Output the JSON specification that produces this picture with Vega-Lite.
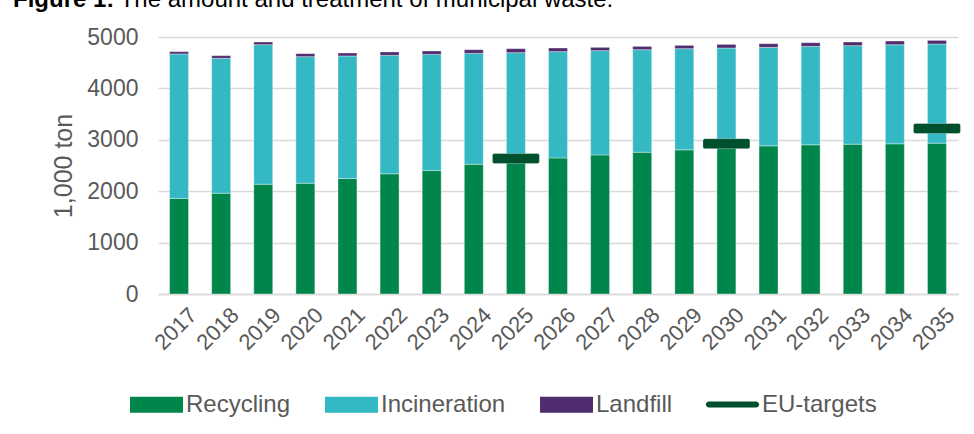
{
  "$schema": "https://vega.github.io/schema/vega-lite/v6.json",
  "autosize": "none",
  "width": 800,
  "height": 257,
  "padding": {"left": 158, "top": 37, "right": 16, "bottom": 140},
  "background": "white",
  "title": {
    "text": "Figure 1:",
    "subtitle": "\u200b\u00a0\u00a0\u00a0\u00a0\u00a0\u00a0\u00a0\u00a0\u00a0\u00a0\u00a0\u00a0\u00a0\u00a0\u00a0\u00a0The amount and treatment of municipal waste.",
    "anchor": "start",
    "frame": "group",
    "font": "Liberation Sans",
    "fontSize": 24,
    "fontWeight": "bold",
    "color": "#000000",
    "subtitleFont": "Liberation Sans",
    "subtitleFontSize": 24,
    "subtitleFontWeight": "normal",
    "subtitleColor": "#000000",
    "subtitlePadding": -24,
    "baseline": "alphabetic",
    "offset": 0,
    "dx": -145,
    "dy": 5
  },
  "datasets": {
    "waste": [
      {"year": "2017", "type": "Recycling", "rank": 1, "value": 1860},
      {"year": "2017", "type": "Incineration", "rank": 2, "value": 2810},
      {"year": "2017", "type": "Landfill", "rank": 3, "value": 45},
      {"year": "2018", "type": "Recycling", "rank": 1, "value": 1960},
      {"year": "2018", "type": "Incineration", "rank": 2, "value": 2624},
      {"year": "2018", "type": "Landfill", "rank": 3, "value": 53},
      {"year": "2019", "type": "Recycling", "rank": 1, "value": 2136},
      {"year": "2019", "type": "Incineration", "rank": 2, "value": 2714},
      {"year": "2019", "type": "Landfill", "rank": 3, "value": 53},
      {"year": "2020", "type": "Recycling", "rank": 1, "value": 2155},
      {"year": "2020", "type": "Incineration", "rank": 2, "value": 2462},
      {"year": "2020", "type": "Landfill", "rank": 3, "value": 59},
      {"year": "2021", "type": "Recycling", "rank": 1, "value": 2247},
      {"year": "2021", "type": "Incineration", "rank": 2, "value": 2384},
      {"year": "2021", "type": "Landfill", "rank": 3, "value": 58},
      {"year": "2022", "type": "Recycling", "rank": 1, "value": 2338},
      {"year": "2022", "type": "Incineration", "rank": 2, "value": 2305},
      {"year": "2022", "type": "Landfill", "rank": 3, "value": 66},
      {"year": "2023", "type": "Recycling", "rank": 1, "value": 2403},
      {"year": "2023", "type": "Incineration", "rank": 2, "value": 2259},
      {"year": "2023", "type": "Landfill", "rank": 3, "value": 66},
      {"year": "2024", "type": "Recycling", "rank": 1, "value": 2523},
      {"year": "2024", "type": "Incineration", "rank": 2, "value": 2159},
      {"year": "2024", "type": "Landfill", "rank": 3, "value": 71},
      {"year": "2025", "type": "Recycling", "rank": 1, "value": 2585},
      {"year": "2025", "type": "Incineration", "rank": 2, "value": 2110},
      {"year": "2025", "type": "Landfill", "rank": 3, "value": 78},
      {"year": "2026", "type": "Recycling", "rank": 1, "value": 2647},
      {"year": "2026", "type": "Incineration", "rank": 2, "value": 2068},
      {"year": "2026", "type": "Landfill", "rank": 3, "value": 71},
      {"year": "2027", "type": "Recycling", "rank": 1, "value": 2706},
      {"year": "2027", "type": "Incineration", "rank": 2, "value": 2028},
      {"year": "2027", "type": "Landfill", "rank": 3, "value": 64},
      {"year": "2028", "type": "Recycling", "rank": 1, "value": 2758},
      {"year": "2028", "type": "Incineration", "rank": 2, "value": 1995},
      {"year": "2028", "type": "Landfill", "rank": 3, "value": 64},
      {"year": "2029", "type": "Recycling", "rank": 1, "value": 2804},
      {"year": "2029", "type": "Incineration", "rank": 2, "value": 1969},
      {"year": "2029", "type": "Landfill", "rank": 3, "value": 64},
      {"year": "2030", "type": "Recycling", "rank": 1, "value": 2845},
      {"year": "2030", "type": "Incineration", "rank": 2, "value": 1941},
      {"year": "2030", "type": "Landfill", "rank": 3, "value": 70},
      {"year": "2031", "type": "Recycling", "rank": 1, "value": 2882},
      {"year": "2031", "type": "Incineration", "rank": 2, "value": 1916},
      {"year": "2031", "type": "Landfill", "rank": 3, "value": 72},
      {"year": "2032", "type": "Recycling", "rank": 1, "value": 2902},
      {"year": "2032", "type": "Incineration", "rank": 2, "value": 1915},
      {"year": "2032", "type": "Landfill", "rank": 3, "value": 72},
      {"year": "2033", "type": "Recycling", "rank": 1, "value": 2915},
      {"year": "2033", "type": "Incineration", "rank": 2, "value": 1916},
      {"year": "2033", "type": "Landfill", "rank": 3, "value": 72},
      {"year": "2034", "type": "Recycling", "rank": 1, "value": 2922},
      {"year": "2034", "type": "Incineration", "rank": 2, "value": 1928},
      {"year": "2034", "type": "Landfill", "rank": 3, "value": 72},
      {"year": "2035", "type": "Recycling", "rank": 1, "value": 2935},
      {"year": "2035", "type": "Incineration", "rank": 2, "value": 1929},
      {"year": "2035", "type": "Landfill", "rank": 3, "value": 70}
    ],
    "targets": [
      {"year": "2025", "series": "EU-targets", "target": 2634},
      {"year": "2030", "series": "EU-targets", "target": 2925},
      {"year": "2035", "series": "EU-targets", "target": 3220}
    ]
  },
  "config": {
    "font": "Liberation Sans",
    "view": {"stroke": null},
    "axis": {
      "labelFont": "Liberation Sans",
      "titleFont": "Liberation Sans",
      "labelColor": "#595959",
      "titleColor": "#595959"
    },
    "legend": {
      "labelFont": "Liberation Sans",
      "labelFontSize": 24,
      "labelColor": "#595959",
      "labelOffset": 3,
      "padding": 0,
      "title": null
    }
  },
  "encoding": {
    "x": {
      "field": "year",
      "type": "ordinal",
      "scale": {
        "domain": ["2017","2018","2019","2020","2021","2022","2023","2024","2025","2026","2027","2028","2029","2030","2031","2032","2033","2034","2035"],
        "paddingInner": 0.55,
        "paddingOuter": 0.275
      },
      "axis": {
        "title": null,
        "labelAngle": -45,
        "labelFontSize": 22,
        "labelPadding": 10,
        "labelOffset": 7,
        "ticks": false,
        "domainColor": "#d9d9d9",
        "domainWidth": 1.5,
        "grid": false
      }
    }
  },
  "layer": [
    {
      "data": {"name": "waste"},
      "mark": {"type": "bar", "stroke": "#ffffff", "strokeOpacity": 0.35, "strokeWidth": 1},
      "encoding": {
        "y": {
          "field": "value",
          "type": "quantitative",
          "stack": "zero",
          "scale": {"domain": [0, 5000], "nice": false},
          "axis": {
            "title": "1,000 ton",
            "titleFontSize": 25,
            "titleFontWeight": "normal",
            "titlePadding": 10,
            "values": [0, 1000, 2000, 3000, 4000, 5000],
            "format": "d",
            "labelFontSize": 23,
            "labelPadding": 20,
            "ticks": false,
            "domain": false,
            "gridColor": "#d9d9d9",
            "gridWidth": 1.5
          }
        },
        "order": {"field": "rank", "type": "quantitative"},
        "color": {
          "field": "type",
          "type": "nominal",
          "scale": {
            "domain": ["Recycling", "Incineration", "Landfill"],
            "range": ["#00854A", "#33B8C4", "#4F2D6E"]
          },
          "legend": {
            "orient": "none",
            "legendX": -28,
            "legendY": 341,
            "direction": "horizontal",
            "columns": 3,
            "columnPadding": 34,
            "symbolType": "M-1,-0.3H1V0.3H-1Z",
            "symbolSize": 2809,
            "symbolStrokeWidth": 0
          }
        }
      }
    },
    {
      "data": {"name": "targets"},
      "mark": {"type": "tick", "thickness": 10, "size": 47, "cornerRadius": 2, "color": "#00502D", "stroke": "#ffffff", "strokeOpacity": 0.3, "strokeWidth": 1},
      "encoding": {
        "y": {"field": "target", "type": "quantitative"},
        "opacity": {
          "field": "series",
          "type": "nominal",
          "scale": {"range": [1]},
          "legend": {
            "orient": "none",
            "legendX": 548,
            "legendY": 341,
            "direction": "horizontal",
            "symbolType": "M-0.89,-0.113H0.89A0.113,0.113 0 0 1 0.89,0.113H-0.89A0.113,0.113 0 0 1 -0.89,-0.113Z",
            "symbolSize": 2809,
            "symbolFillColor": "#00502D",
            "symbolStrokeWidth": 0,
            "symbolOpacity": 1
          }
        }
      }
    }
  ]
}
